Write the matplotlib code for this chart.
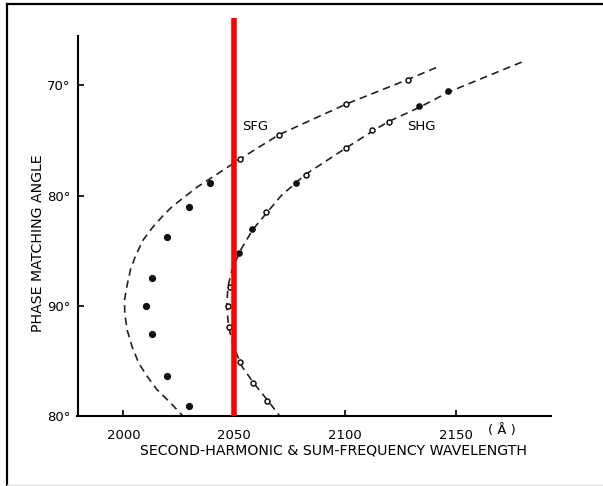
import matplotlib
matplotlib.use("Agg")
import matplotlib.pyplot as plt
from matplotlib.lines import Line2D

# ---- data (wavelength in Angstrom, phase-matching angle in degrees; >90 shown mirrored) ----
sfg_curve_wl = [2141, 2128, 2100.5, 2070, 2052.5, 2045, 2033.5, 2022, 2018, 2013.5, 2009,
                2005.6, 2003.2, 2001.5, 2000.5, 2000.6, 2001.7, 2003.9, 2006.9, 2010.7,
                2015.1, 2021.2, 2026.8]
sfg_curve_ang = [68.4, 69.5, 71.7, 74.5, 76.7, 77.7, 79.2, 81.0, 81.8, 82.8, 84.0,
                 85.4, 86.7, 88.3, 89.5, 90.7, 92.2, 93.7, 95.2, 96.4,
                 97.6, 98.8, 100.0]

shg_curve_wl = [2179.6, 2146.8, 2133.5, 2119.5, 2112.8, 2100.3, 2082, 2077.5, 2071.2, 2064.5,
                2058.3, 2053, 2049, 2047.1, 2046.6, 2047.4, 2049.7, 2053.4, 2058.7, 2064.7, 2070.5]
shg_curve_ang = [67.9, 70.6, 72.0, 73.3, 74.1, 75.7, 78.1, 78.9, 80.0, 81.6,
                 83.1, 84.9, 86.7, 88.3, 90.0, 91.9, 93.7, 95.5, 97.0, 98.5, 100.0]

sfg_open_wl = [2128.2, 2100.5, 2070, 2052.5]
sfg_open_ang = [69.5, 71.7, 74.5, 76.7]
sfg_dot_wl = [2039, 2029.5, 2019.5, 2012.7, 2010, 2012.7, 2019.5, 2029.8]
sfg_dot_ang = [78.9, 81.0, 83.8, 87.5, 90.0, 92.6, 96.4, 99.1]

shg_dot_wl = [2146.4, 2133.4, 2077.7, 2058, 2052]
shg_dot_ang = [70.5, 71.9, 78.9, 83.0, 85.2]
shg_open_wl = [2119.6, 2112.3, 2100.5, 2082.3, 2064.3, 2048.2, 2047.2, 2047.8, 2052.4, 2058.4, 2064.9]
shg_open_ang = [73.3, 74.1, 75.7, 78.1, 81.5, 88.3, 90.0, 91.9, 95.1, 97.0, 98.6]

x_ticks = [2000, 2050, 2100, 2150]
x_tick_labels = ["2000", "2050", "2100", "2150"]
y_ticks = [70, 80, 90, 100]
y_tick_labels = ["70°", "80°", "90°", "80°"]
marker_wl = 2050

W, H = 603, 486
fig = plt.figure(figsize=(W / 100, H / 100), dpi=100)
fig.patch.set_facecolor("white")

left_px, right_px, bottom_px, top_px = 77.5, 551, 416, 18
ax = fig.add_axes([left_px / W, 1 - bottom_px / H, (right_px - left_px) / W, (bottom_px - top_px) / H])
ax.set_xlim(1979.3, 2192.8)
ax.set_ylim(100, 63.9)

for s in ["top", "right"]:
    ax.spines[s].set_visible(False)
ax.spines["left"].set_bounds(65.5, 100)
ax.spines["left"].set_linewidth(1.5)
ax.spines["bottom"].set_linewidth(1.5)

ax.plot(sfg_curve_wl, sfg_curve_ang, ls=(0, (4.5, 3)), color="#222222", lw=1.2)
ax.plot(shg_curve_wl, shg_curve_ang, ls=(0, (4.5, 3)), color="#222222", lw=1.2)

ax.plot(sfg_dot_wl, sfg_dot_ang, "o", color="#111111", ms=4.2, ls="none")
ax.plot(sfg_open_wl, sfg_open_ang, "o", mfc="white", mec="#111111", mew=1.1, ms=3.6, ls="none")
ax.plot(shg_dot_wl, shg_dot_ang, "o", color="#111111", ms=3.8, ls="none")
ax.plot(shg_open_wl, shg_open_ang, "o", mfc="white", mec="#111111", mew=1.1, ms=3.6, ls="none")

ax.axvline(marker_wl, color="#ff0000", lw=4, solid_capstyle="butt", zorder=5)

ax.set_xticks(x_ticks)
ax.set_xticklabels(x_tick_labels)
ax.set_yticks(y_ticks)
ax.set_yticklabels(y_tick_labels)
ax.tick_params(axis="x", direction="in", length=4, width=1.2, pad=9, labelsize=9.5)
ax.tick_params(axis="y", direction="in", length=4, width=1.2, pad=5, labelsize=9.5)

ax.text(2059.5, 73.7, "SFG", ha="center", va="center", fontsize=9.5)
ax.text(2134.2, 73.7, "SHG", ha="center", va="center", fontsize=9.5)
fig.text(502 / W, 1 - 430 / H, "( Å )", ha="center", va="center", fontsize=9.5)

fig.text(333 / W, 1 - 450 / H, "SECOND-HARMONIC & SUM-FREQUENCY WAVELENGTH",
         ha="center", va="center", fontsize=10.2)
fig.text(38 / W, 1 - 243 / H, "PHASE MATCHING ANGLE", rotation=90,
         ha="center", va="center", fontsize=10.2)

# image frame
fig.add_artist(Line2D([7 / W, 7 / W], [0, 1 - 4.5 / H], color="black", lw=1.6, transform=fig.transFigure))
fig.add_artist(Line2D([7 / W, 1], [1 - 4.5 / H, 1 - 4.5 / H], color="black", lw=1.6, transform=fig.transFigure))
fig.add_artist(Line2D([7 / W, 1], [1.5 / H, 1.5 / H], color="#dddddd", lw=1, transform=fig.transFigure))

fig.savefig("out.png", dpi=100)
